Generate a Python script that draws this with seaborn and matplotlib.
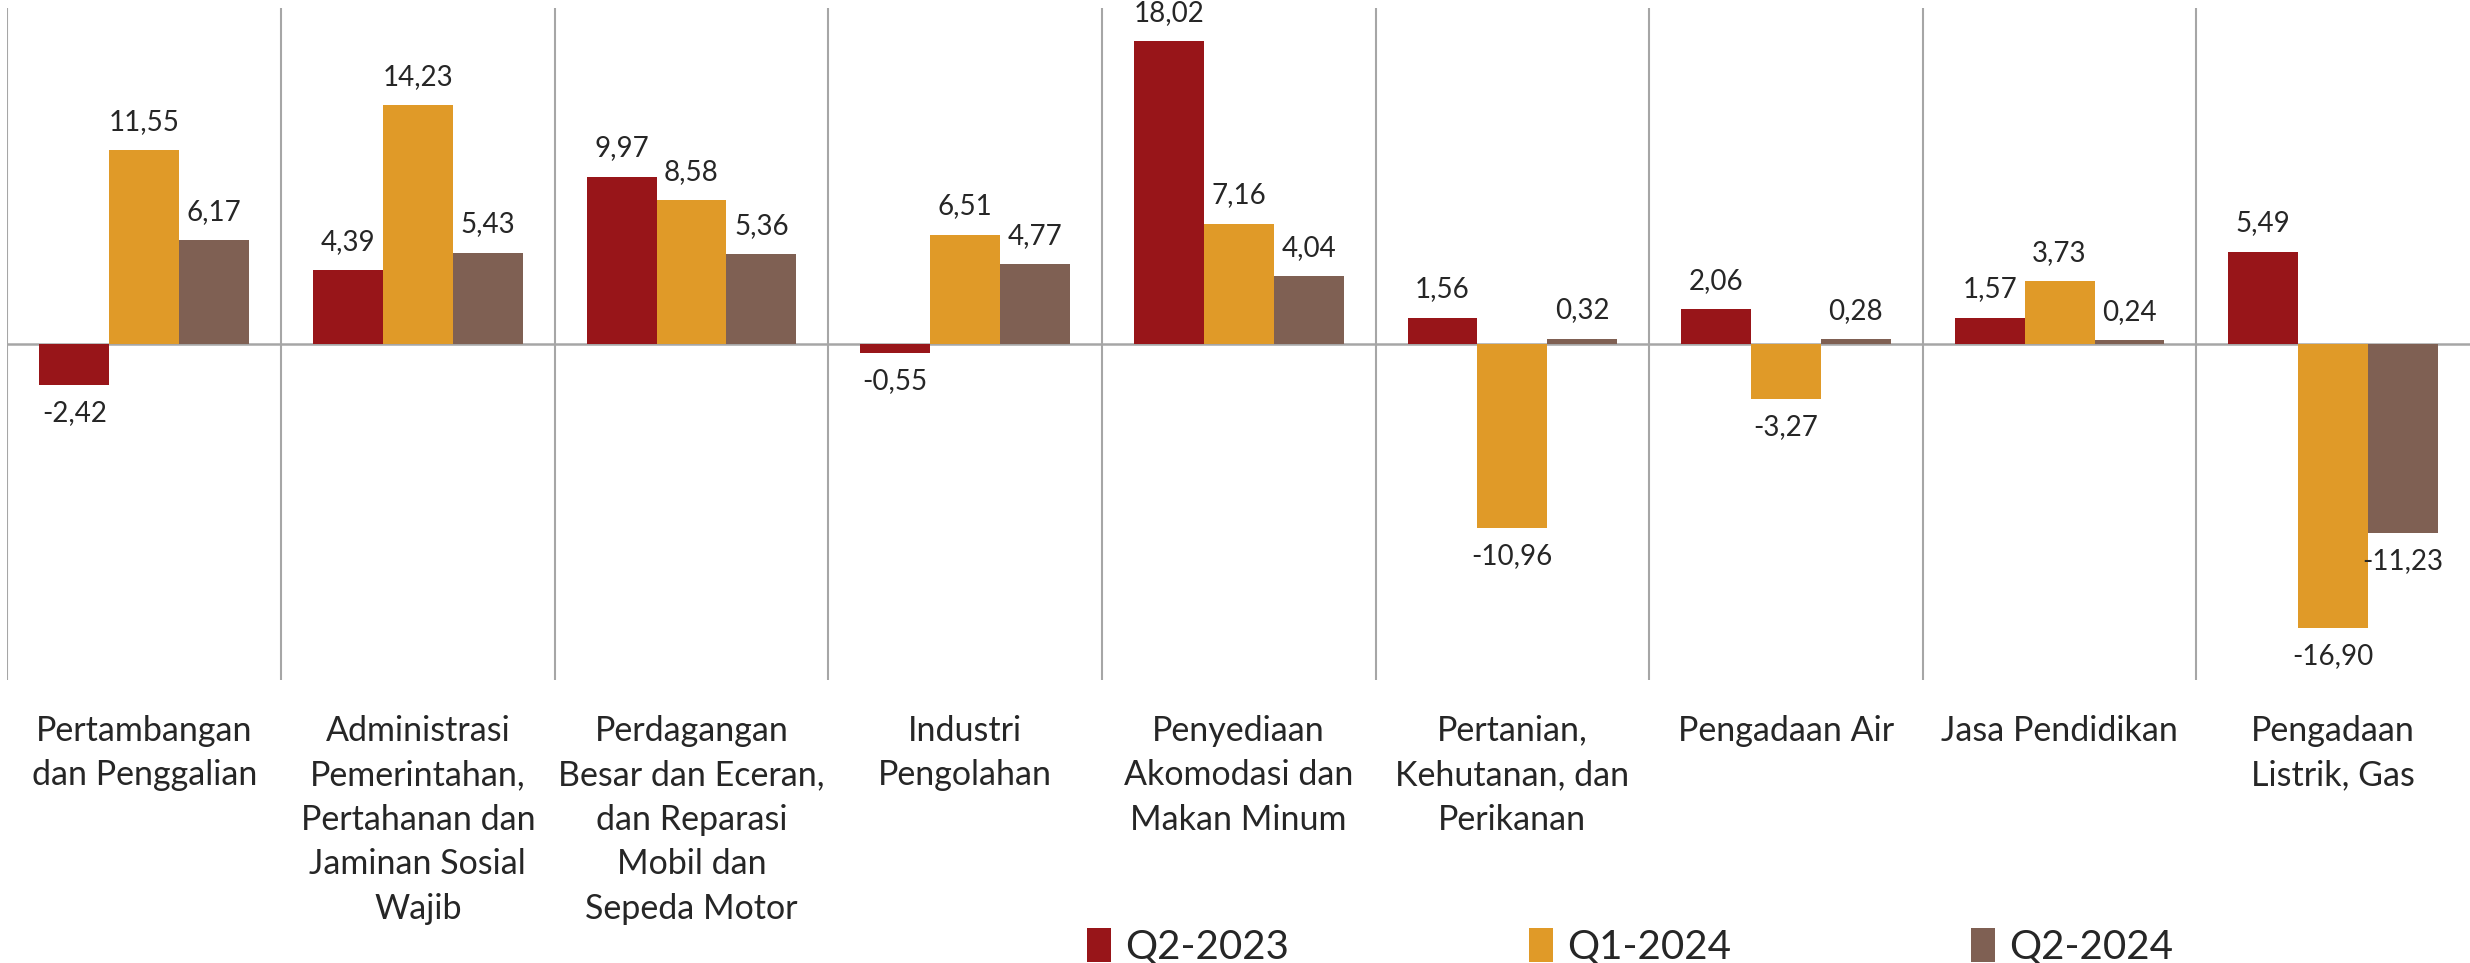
import numpy as np
import pandas as pd
import seaborn as sns
import matplotlib.pyplot as plt

categories = [
    "Pertambangan\ndan Penggalian",
    "Administrasi\nPemerintahan,\nPertahanan dan\nJaminan Sosial\nWajib",
    "Perdagangan\nBesar dan Eceran,\ndan Reparasi\nMobil dan\nSepeda Motor",
    "Industri\nPengolahan",
    "Penyediaan\nAkomodasi dan\nMakan Minum",
    "Pertanian,\nKehutanan, dan\nPerikanan",
    "Pengadaan Air",
    "Jasa Pendidikan",
    "Pengadaan\nListrik, Gas",
]
periods = ["Q2-2023", "Q1-2024", "Q2-2024"]
q2_2023 = [-2.42, 4.39, 9.97, -0.55, 18.02, 1.56, 2.06, 1.57, 5.49]
q1_2024 = [11.55, 14.23, 8.58, 6.51, 7.16, -10.96, -3.27, 3.73, -16.90]
q2_2024 = [6.17, 5.43, 5.36, 4.77, 4.04, 0.32, 0.28, 0.24, -11.23]
colors = ["#981519", "#E09A28", "#7F6053"]
series = [q2_2023, q1_2024, q2_2024]

df = pd.DataFrame({
    "Sektor": categories * 3,
    "Periode": np.repeat(periods, len(categories)),
    "Nilai": q2_2023 + q1_2024 + q2_2024,
})

sns.set_style("white")
plt.rcParams["font.family"] = ["Lato", "DejaVu Sans"]

fig = plt.figure(figsize=(24.7, 9.63), dpi=100)
ax = fig.add_axes([0.003, 1 - 680 / 963, 0.997, (680 - 8) / 963])

sns.barplot(data=df, x="Sektor", y="Nilai", hue="Periode", palette=colors,
            width=0.766, linewidth=0, saturation=1, ax=ax, zorder=3)

grid_color = "#A6A6A6"
for x in np.arange(-0.5, 8.0, 1):
    ax.axvline(x, color=grid_color, lw=1.5, zorder=1)
ax.axhline(0, color=grid_color, lw=1.8, zorder=2)

for cont, vals in zip(ax.containers, series):
    ax.bar_label(cont, labels=[f"{v:.2f}".replace(".", ",") for v in vals],
                 padding=11, fontsize=20, clip_on=False)

ax.set_ylim(-20, 20)
ax.set_xlim(-0.5, 8.5)
ax.set_yticks([])
ax.set_xlabel("")
ax.set_ylabel("")
ax.tick_params(axis="x", length=0, pad=25, labelsize=24.5)
for lbl in ax.get_xticklabels():
    lbl.set_linespacing(1.48)
    lbl.set_verticalalignment("top")
for s in ax.spines.values():
    s.set_visible(False)

handles, labels = ax.get_legend_handles_labels()
ax.get_legend().remove()
fig.legend(handles, labels, loc="center", bbox_to_anchor=(1630 / 2470, 16 / 963),
           ncol=3, frameon=False, fontsize=29, handlelength=0.6, handleheight=0.9,
           handletextpad=0.35, columnspacing=5.95)

fig.savefig("out.png", dpi=100)
